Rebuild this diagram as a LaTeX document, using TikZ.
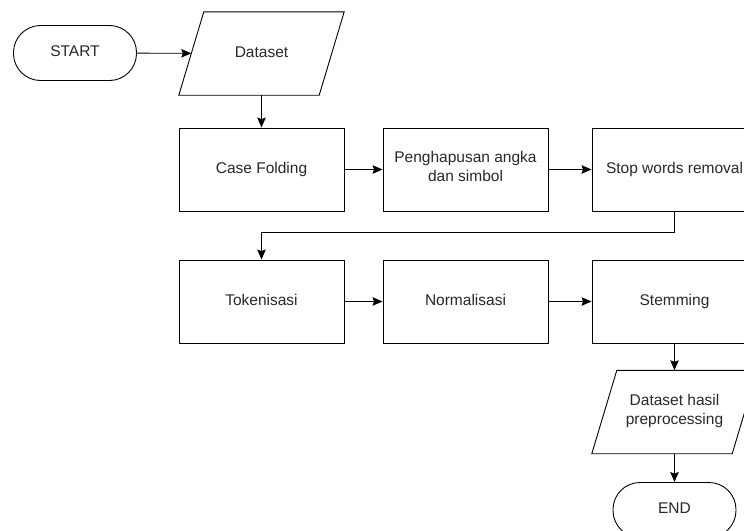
\documentclass[tikz,border=0pt]{standalone}
\usepackage{fontspec}
\setmainfont{Liberation Sans}
\usetikzlibrary{shapes.geometric, arrows.meta, positioning}
\definecolor{textgray}{RGB}{40,40,40}

% slanted input/output box drawn round a plain node
\newcommand{\iobox}[1]{\draw[line width=0.9pt] ([xshift=-12.5pt]#1.south west) -- ([xshift=12.5pt]#1.north west) -- ([xshift=12.5pt]#1.north east) -- ([xshift=-12.5pt]#1.south east) -- cycle;}

\begin{document}
\begin{tikzpicture}[
    x=1pt, y=-1pt,
    every node/.style={font=\fontsize{15.5}{19}\selectfont, text=textgray, align=center,
        execute at begin node=\strut, execute at end node=\strut},
    terminal/.style={draw, line width=0.9pt, rounded corners=27pt, minimum width=123pt, minimum height=55pt},
    process/.style={draw, line width=0.9pt, minimum width=165pt, minimum height=83pt},
    iodata/.style={minimum width=140pt, minimum height=83pt},
    arrow/.style={-{Stealth[length=10pt, width=8.5pt, inset=1.5pt]}, line width=0.9pt}
]
    \path[use as bounding box, clip] (0,0) rectangle (744,530);

    % Start and input
    \node[terminal] (start) at (75,53) {START};
    \node[iodata] (data) at (261.5,53.5) {Dataset};
    \iobox{data}

    % First row
    \node[process] (fold) at (261.5,169.5) {Case Folding};
    \node[process] (hapus) at (465.5,169.5) {Penghapusan angka\\dan simbol};
    \node[process] (stop) at (674.5,169.5) {Stop words removal};

    % Second row
    \node[process] (token) at (261.5,301.5) {Tokenisasi};
    \node[process] (norm) at (465.5,301.5) {Normalisasi};
    \node[process] (stem) at (674.5,301.5) {Stemming};

    % Output and end
    \node[iodata] (hasil) at (674.5,412) {Dataset hasil\\preprocessing};
    \iobox{hasil}
    \node[terminal] (end) at (674.5,510) {END};

    % Connections
    \draw[arrow] (start) -- (data);
    \draw[arrow] (data) -- (fold);
    \draw[arrow] (fold) -- (hapus);
    \draw[arrow] (hapus) -- (stop);
    \draw[arrow] (stop.south) -- ++(0,21) -| (token.north);
    \draw[arrow] (token) -- (norm);
    \draw[arrow] (norm) -- (stem);
    \draw[arrow] (stem) -- (hasil);
    \draw[arrow] (hasil) -- (end);
\end{tikzpicture}
\end{document}
